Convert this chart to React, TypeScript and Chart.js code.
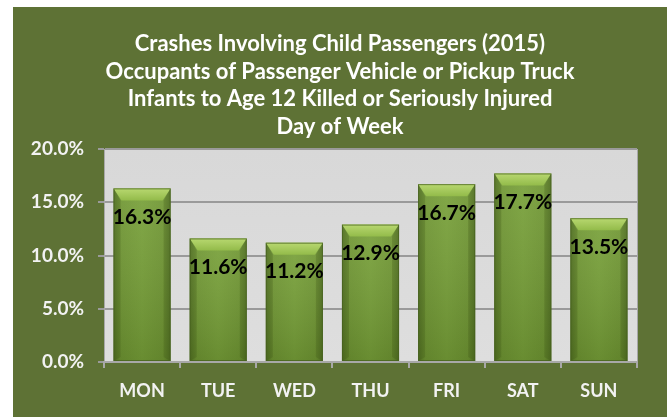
import React, { useEffect, useRef } from "react";
import { Chart, registerables } from "chart.js";

Chart.register(...registerables);

const titleLines = [
  "Crashes Involving Child Passengers (2015)",
  "Occupants of Passenger Vehicle or Pickup Truck",
  "Infants to Age 12 Killed or Seriously Injured",
  "Day of Week",
];
const days = ["MON", "TUE", "WED", "THU", "FRI", "SAT", "SUN"];
const percents = [16.3, 11.6, 11.2, 12.9, 16.7, 17.7, 13.5];
const yTicks = [0, 5, 10, 15, 20];

const FONT = "Lato, 'Open Sans', sans-serif";

const decorPlugin = {
  id: "decor",
  beforeDraw(chart: any) {
    const { ctx, width, height, chartArea } = chart;
    ctx.save();
    ctx.fillStyle = "#ffffff";
    ctx.fillRect(0, 0, width, height);
    ctx.fillStyle = "#5e7235";
    ctx.fillRect(13, 7, width - 13, height - 7);
    const g = ctx.createLinearGradient(0, chartArea.top, 0, chartArea.bottom);
    g.addColorStop(0, "#d8d8d8");
    g.addColorStop(1, "#dedede");
    ctx.fillStyle = g;
    ctx.fillRect(chartArea.left, chartArea.top, chartArea.right - chartArea.left, chartArea.bottom - chartArea.top);
    ctx.strokeStyle = "#a8a8a8";
    ctx.lineWidth = 1;
    ctx.beginPath();
    ctx.moveTo(chartArea.right + 0.5, chartArea.top);
    ctx.lineTo(chartArea.right + 0.5, chartArea.bottom);
    ctx.stroke();
    // title
    ctx.fillStyle = "#ffffff";
    ctx.font = `bold 22px ${FONT}`;
    ctx.textAlign = "center";
    ctx.textBaseline = "middle";
    const cx = (13 + width) / 2;
    titleLines.forEach((t, i) => {
      ctx.fillText(t, cx, 44 + i * 27.7);
    });
    ctx.restore();
  },
  afterDatasetsDraw(chart: any) {
    const { ctx } = chart;
    const meta = chart.getDatasetMeta(0);
    ctx.save();
    meta.data.forEach((bar: any, i: number) => {
      const left = bar.x - bar.width / 2;
      const right = bar.x + bar.width / 2;
      const top = bar.y;
      const bottom = bar.base;
      const w = right - left;
      const hg = ctx.createLinearGradient(left, 0, right, 0);
      hg.addColorStop(0, "#587a26");
      hg.addColorStop(0.12, "#6f9632");
      hg.addColorStop(0.5, "#77a038");
      hg.addColorStop(0.88, "#6f9632");
      hg.addColorStop(1, "#587a26");
      ctx.fillStyle = hg;
      ctx.fillRect(left, top, w, bottom - top);
      const vg = ctx.createLinearGradient(0, top, 0, bottom);
      vg.addColorStop(0, "rgba(255,255,255,0.08)");
      vg.addColorStop(1, "rgba(0,0,0,0.12)");
      ctx.fillStyle = vg;
      ctx.fillRect(left, top, w, bottom - top);
      const cap = 12;
      const tg = ctx.createLinearGradient(0, top, 0, top + cap);
      tg.addColorStop(0, "#b8d870");
      tg.addColorStop(1, "#93bb4a");
      ctx.fillStyle = tg;
      ctx.beginPath();
      ctx.moveTo(left, top);
      ctx.lineTo(right, top);
      ctx.lineTo(right - 8, top + cap);
      ctx.lineTo(left + 8, top + cap);
      ctx.closePath();
      ctx.fill();
      ctx.fillStyle = "rgba(60,85,20,0.25)";
      ctx.beginPath();
      ctx.moveTo(left, top);
      ctx.lineTo(left + 7, top + cap);
      ctx.lineTo(left + 7, bottom - 4);
      ctx.lineTo(left, bottom);
      ctx.closePath();
      ctx.fill();
      ctx.beginPath();
      ctx.moveTo(right, top);
      ctx.lineTo(right - 7, top + cap);
      ctx.lineTo(right - 7, bottom - 4);
      ctx.lineTo(right, bottom);
      ctx.closePath();
      ctx.fill();
      ctx.strokeStyle = "rgba(70,95,30,0.7)";
      ctx.lineWidth = 1;
      ctx.strokeRect(left + 0.5, top + 0.5, w - 1, bottom - top - 1);
      ctx.fillStyle = "#000000";
      ctx.font = `bold 21px ${FONT}`;
      ctx.textAlign = "center";
      ctx.textBaseline = "middle";
      ctx.fillText(percents[i].toFixed(1) + "%", bar.x, top + 29);
    });
    ctx.restore();
  },
};

export default function App() {
  const ref = useRef<HTMLCanvasElement | null>(null);
  useEffect(() => {
    if (!ref.current) return;
    const chart = new Chart(ref.current, {
      type: "bar",
      data: {
        labels: days,
        datasets: [
          {
            data: percents,
            backgroundColor: "rgba(0,0,0,0)",
            borderWidth: 0,
            barPercentage: 0.75,
            categoryPercentage: 1,
          },
        ],
      },
      options: {
        responsive: false,
        animation: false,
        layout: { padding: { left: 13, right: 30, top: 149, bottom: 0 } },
        plugins: {
          legend: { display: false },
          title: { display: false },
          tooltip: { enabled: false },
        },
        scales: {
          y: {
            min: 0,
            max: 20,
            afterBuildTicks: (axis: any) => {
              axis.ticks = yTicks.map((v) => ({ value: v }));
            },
            afterFit: (axis: any) => {
              axis.width = 91;
            },
            ticks: {
              color: "#f2f2f2",
              font: { family: FONT, weight: "bold", size: 19 },
              padding: 14,
              callback: (v: any) => Number(v).toFixed(1) + "%",
            },
            grid: {
              color: "#9a9a9a",
              lineWidth: 2,
              tickLength: 6,
            },
            border: { display: true, color: "#a8a8a8", width: 1 },
          },
          x: {
            afterFit: (axis: any) => {
              axis.height = 55;
            },
            ticks: {
              color: "#f2f2f2",
              font: { family: FONT, weight: "bold", size: 18 },
              padding: 12,
            },
            grid: {
              drawOnChartArea: false,
              drawTicks: true,
              tickLength: 6,
              color: "#a8a8a8",
              lineWidth: 2,
            },
            border: { display: true, color: "#a8a8a8", width: 2 },
          },
        },
      },
      plugins: [decorPlugin],
    } as any);
    return () => chart.destroy();
  }, []);
  return (
    <div style={{ position: "fixed", left: 0, top: 0, width: 667, height: 417 }}>
      <canvas ref={ref} width={667} height={417} style={{ width: 667, height: 417, display: "block" }} />
    </div>
  );
}
